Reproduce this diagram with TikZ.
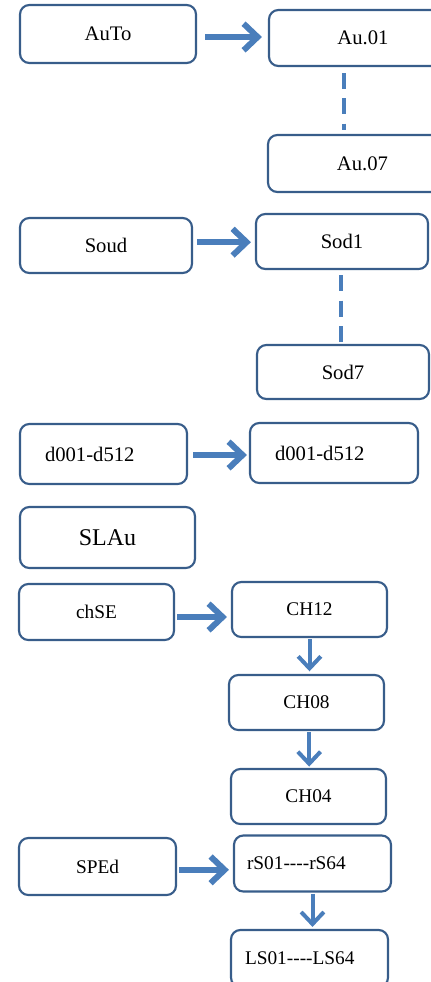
\documentclass[tikz,border=0pt]{standalone}
\usepackage{fontspec}
\setmainfont{Liberation Serif}
\usetikzlibrary{arrows.meta}
\definecolor{boxblue}{RGB}{56,93,138}
\definecolor{arrowblue}{RGB}{74,126,187}
\tikzset{
	menubox/.style={draw=boxblue, line width=1.6pt, rounded corners=7pt, inner sep=0pt, font=\fontsize{15.5}{18}\selectfont},
	smallbox/.style={menubox, font=\fontsize{14.5}{17}\selectfont},
	bigarrow/.style={draw=arrowblue, line width=4.5pt, -{Straight Barb[length=10.5pt, width=20pt]}},
	downarrow/.style={draw=arrowblue, line width=3pt, -{Straight Barb[length=9pt, width=17pt]}},
	dotline/.style={draw=arrowblue, line width=2.4pt, dash pattern=on 12pt off 7pt}}

\begin{document}
\begin{tikzpicture}[x=0.75pt,y=0.75pt,yscale=-1,xscale=1]
	\useasboundingbox (0,0) rectangle (430,982);

	%Shape: Rounded Rect [id:auto] 
	\node (auto) at (108,34) [menubox, minimum width=132pt, minimum height=43.5pt] {AuTo};
	%Shape: Rounded Rect [id:au01] 
	\node (au01) at (363,38) [menubox, minimum width=141pt, minimum height=42pt] {Au.01};
	%Shape: Rounded Rect [id:au07] 
	\node (au07) at (362.5,163.5) [menubox, minimum width=141.75pt, minimum height=42.75pt] {Au.07};
	%Shape: Rounded Rect [id:soud] 
	\node (soud) at (106,245.5) [menubox, minimum width=129pt, minimum height=41.25pt] {Soud};
	%Shape: Rounded Rect [id:sod1] 
	\node (sod1) at (342,241.5) [menubox, minimum width=129pt, minimum height=41.25pt] {Sod1};
	%Shape: Rounded Rect [id:sod7] 
	\node (sod7) at (343,372) [menubox, minimum width=129pt, minimum height=40.5pt] {Sod7};
	%Shape: Rounded Rect [id:dleft] 
	\node (dleft) at (103.5,454) [menubox, align=left, inner xsep=18.75pt, text width=87.75pt, minimum height=45pt] {d001-d512};
	%Shape: Rounded Rect [id:dright] 
	\node (dright) at (334,453) [menubox, align=left, inner xsep=18.75pt, text width=88.5pt, minimum height=45pt] {d001-d512};
	%Shape: Rounded Rect [id:slau] 
	\node (slau) at (107.5,537.5) [menubox, minimum width=131.25pt, minimum height=45.75pt, font=\fontsize{18}{21}\selectfont] {SLAu};
	%Shape: Rounded Rect [id:chse] 
	\node (chse) at (96.5,612) [smallbox, minimum width=116.25pt, minimum height=42pt] {chSE};
	%Shape: Rounded Rect [id:ch12] 
	\node (ch12) at (309.5,609.5) [smallbox, minimum width=116.25pt, minimum height=41.25pt] {CH12};
	%Shape: Rounded Rect [id:ch08] 
	\node (ch08) at (306.5,702.5) [smallbox, minimum width=116.25pt, minimum height=41.25pt] {CH08};
	%Shape: Rounded Rect [id:ch04] 
	\node (ch04) at (308.5,796.5) [smallbox, minimum width=116.25pt, minimum height=41.25pt] {CH04};
	%Shape: Rounded Rect [id:sped] 
	\node (sped) at (97.5,866.5) [smallbox, minimum width=117.75pt, minimum height=42.75pt] {SPEd};
	%Shape: Rounded Rect [id:rs] 
	\node (rs) at (312.5,863.5) [smallbox, align=left, inner xsep=9.75pt, text width=98.25pt, minimum height=42pt] {rS01-{}-{}-{}-rS64};
	%Shape: Rounded Rect [id:ls] 
	\node (ls) at (309.5,958.5) [smallbox, align=left, inner xsep=10.5pt, text width=96.75pt, minimum height=42.75pt] {LS01-{}-{}-{}-LS64};

	%Straight Lines [id:auto-au01] 
	\draw [bigarrow, shorten <=6pt, shorten >=4.5pt] ([yshift=2.25pt]auto.east) -- ([yshift=2.25pt]auto.east -| au01.west) ;
	%Straight Lines [id:soud-sod1] 
	\draw [bigarrow, shorten <=3pt, shorten >=3pt] ([yshift=-2.5pt]soud.east) -- ([yshift=-2.5pt]soud.east -| sod1.west) ;
	%Straight Lines [id:dleft-dright] 
	\draw [bigarrow, shorten <=3.75pt, shorten >=1.5pt] ([yshift=0.75pt]dleft.east) -- ([yshift=0.75pt]dleft.east -| dright.west) ;
	%Straight Lines [id:chse-ch12] 
	\draw [bigarrow, shorten <=1.5pt, shorten >=3pt] ([yshift=3.75pt]chse.east) -- ([yshift=3.75pt]chse.east -| ch12.west) ;
	%Straight Lines [id:sped-rs] 
	\draw [bigarrow, shorten <=1.5pt, shorten >=3pt] ([yshift=2.5pt]sped.east) -- ([yshift=2.5pt]sped.east -| rs.west) ;
	%Straight Lines [id:ch12-ch08] 
	\draw [downarrow, shorten <=1pt, shorten >=2pt] (ch12.south) -- (ch12.south |- ch08.north) ;
	%Straight Lines [id:ch08-ch04] 
	\draw [downarrow, shorten <=1pt, shorten >=1pt] ([xshift=2pt]ch08.south) -- ([xshift=2pt]ch08.south |- ch04.north) ;
	%Straight Lines [id:rs-ls] 
	\draw [downarrow, shorten <=1pt, shorten >=1.5pt] (rs.south) -- (rs.south |- ls.north) ;
	%Dashed Lines [id:au01-au07] 
	\draw [dotline, shorten <=4.5pt, shorten >=3pt] ([xshift=-14.25pt]au01.south) -- ([xshift=-14.25pt]au01.south |- au07.north) ;
	%Dashed Lines [id:sod1-sod7] 
	\draw [dotline, shorten <=4pt] ([xshift=-0.75pt]sod1.south) -- ([xshift=-0.75pt]sod1.south |- sod7.north) ;

\end{tikzpicture}
\end{document}
